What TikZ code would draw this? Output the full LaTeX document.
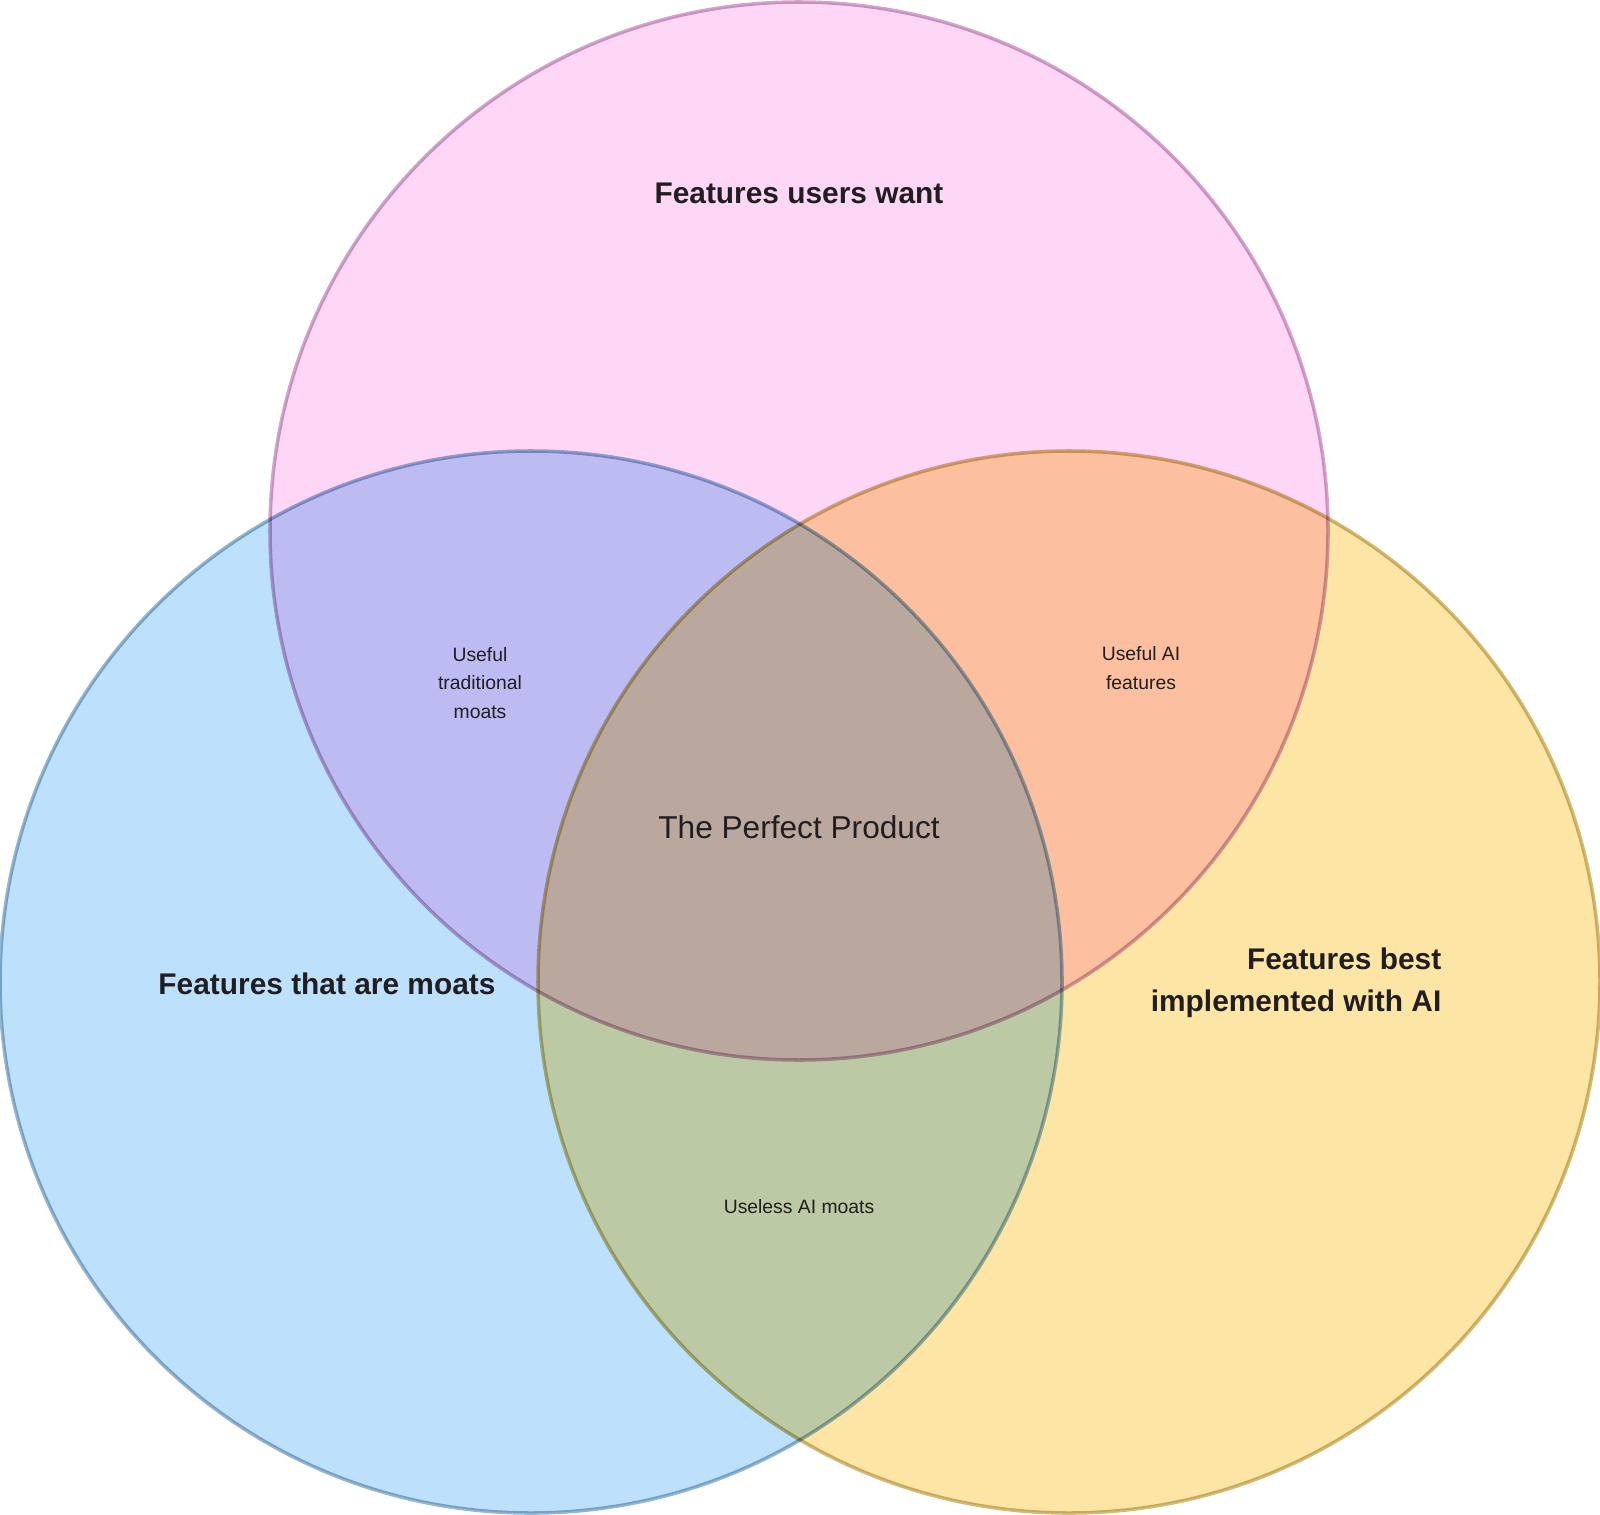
\documentclass[tikz,border=0pt]{standalone}
\usepackage{fontspec}
\setmainfont{Liberation Sans}
\definecolor{wantpink}{RGB}{254,214,246}
\definecolor{wantline}{RGB}{206,168,200}
\definecolor{moatblue}{RGB}{189,225,252}
\definecolor{moatline}{RGB}{152,182,206}
\definecolor{aiyellow}{RGB}{253,229,166}
\definecolor{ailine}{RGB}{206,188,128}
\definecolor{tagtext}{RGB}{32,30,32}
\begin{document}
\begin{tikzpicture}[
    bigtag/.style={font=\bfseries\fontsize{8.5}{12}\selectfont, text=tagtext, inner sep=0pt},
    midtag/.style={font=\fontsize{9}{12}\selectfont, text=tagtext, inner sep=0pt},
    smalltag/.style={font=\fontsize{5.5}{8.1}\selectfont, text=tagtext, align=center, inner sep=0pt}]
    \useasboundingbox (0,0) rectangle (16,15.14);
    % the three sets, multiplied where they overlap
    \begin{scope}[blend group=multiply, line width=0.35pt]
        \draw [draw=wantline, fill=wantpink] (7.99,9.83) circle (5.29);
        \draw [draw=moatline, fill=moatblue] (5.31,5.32) circle (5.31);
        \draw [draw=ailine, fill=aiyellow] (10.69,5.32) circle (5.31);
    \end{scope}
    \node [bigtag] (want) at (7.99,13.21) {Features users want};
    \node [bigtag] (moats) at (3.27,5.30) {Features that are moats};
    \node [bigtag, align=right, anchor=east] (best) at (14.42,5.31) {Features best\\implemented with AI};
    \node [smalltag] (trad) at (4.80,8.31) {Useful\\traditional\\moats};
    \node [smalltag] (aifeat) at (11.41,8.46) {Useful AI\\features};
    \node [smalltag] (useless) at (7.99,3.07) {Useless AI moats};
    \node [midtag] (perfect) at (7.99,6.87) {The Perfect Product};
\end{tikzpicture}
\end{document}
